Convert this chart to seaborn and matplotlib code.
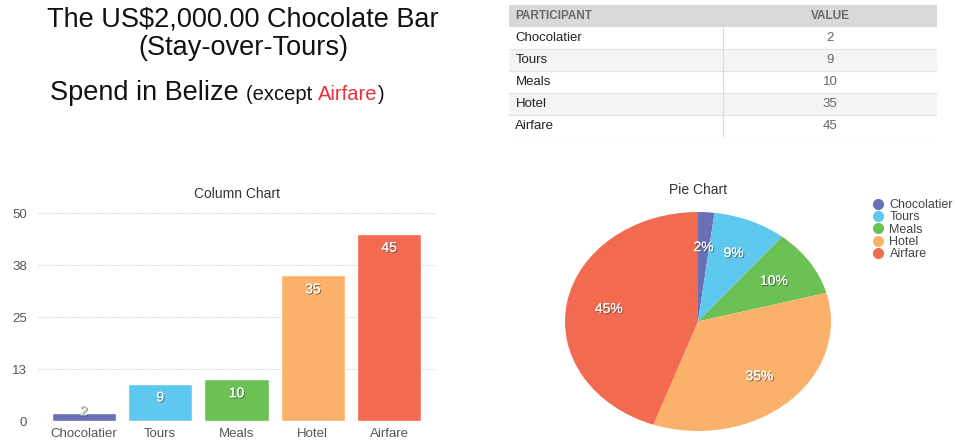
import matplotlib
matplotlib.use("Agg")
import matplotlib.pyplot as plt
import matplotlib.patheffects as pe
from matplotlib.lines import Line2D
import seaborn as sns
import pandas as pd

categories = ["Chocolatier", "Tours", "Meals", "Hotel", "Airfare"]
values = [2, 9, 10, 35, 45]
colors = ["#6b6fb5", "#5ec8ee", "#6cc155", "#fbb169", "#f26a50"]
ytick_values = [0, 12.5, 25, 37.5, 50]
ytick_labels = ["0", "13", "25", "38", "50"]
table_header = ["PARTICIPANT", "VALUE"]

sns.set_theme(style="white")
plt.rcParams["font.family"] = ["Liberation Sans", "DejaVu Sans"]

W, H = 955, 441
fig = plt.figure(figsize=(W / 100, H / 100), dpi=100)
fig.patch.set_facecolor("white")

def fx(px):
    return px / W

def fy(py):
    return 1 - py / H

# ---------------- Titles ----------------
fig.text(fx(243), fy(19), "The US$2,000.00 Chocolate Bar", ha="center", va="center",
         fontsize=19.5, color="#111111")
fig.text(fx(243), fy(48), "(Stay-over-Tours)", ha="center", va="center",
         fontsize=19.5, color="#111111")

renderer = fig.canvas.get_renderer()
x0 = fx(50)
parts = [("Spend in Belize ", 19.5, "#111111"), ("(except ", 14.5, "#111111"),
         ("Airfare", 14.5, "#e8313a"), (")", 14.5, "#111111")]
for txt, size, col in parts:
    t = fig.text(x0, fy(100), txt, ha="left", va="baseline", fontsize=size, color=col)
    bb = t.get_window_extent(renderer=renderer)
    x0 += bb.width / W

# ---------------- Table ----------------
tax = fig.add_axes([fx(509), fy(137), fx(937 - 509), (137 - 5) / H])
tax.axis("off")
tax.set_xlim(0, 1)
tax.set_ylim(0, 1)
cell_text = [[c, str(v)] for c, v in zip(categories, values)]
tbl = tax.table(cellText=cell_text, colLabels=table_header, bbox=[0, 0, 1, 1],
                cellLoc="left", colLoc="left")
tbl.auto_set_font_size(False)
nrows = len(categories) + 1
for (r, c), cell in tbl.get_celld().items():
    cell.PAD = 0.03
    txt = cell.get_text()
    if r == 0:
        face = "#d9d9d9"
        txt.set_fontsize(8.5)
        txt.set_fontweight("bold")
        txt.set_color("#6a6a6a")
    else:
        face = "#f4f4f4" if r % 2 == 0 else "white"
        txt.set_fontsize(9.5)
        txt.set_color("#222222" if c == 0 else "#666666")
    cell.set_facecolor(face)
    cell.set_edgecolor(face)
    cell.set_linewidth(0)
    if c == 1:
        txt.set_horizontalalignment("center")
        cell._loc = "center"
# row separators and column divider
for k in range(nrows - 1):
    tax.axhline(k / nrows, color="#e3e3e3", linewidth=0.8, zorder=5)
tax.axvline(0.5, ymin=0, ymax=(nrows - 1) / nrows, color="#dcdcdc", linewidth=0.8, zorder=5)

# ---------------- Column chart ----------------
ax = fig.add_axes([fx(38), fy(421), fx(435 - 38), (421 - 213) / H])
df = pd.DataFrame({"category": categories, "value": values})
sns.barplot(data=df, x="category", y="value", hue="category", palette=colors,
            legend=False, width=0.84, ax=ax, saturation=1)
ax.set_xlim(-0.6, 4.6)
ax.set_ylim(0, 50)
ax.set_yticks(ytick_values)
ax.set_yticklabels(ytick_labels)
ax.set_xlabel("")
ax.set_ylabel("")
for s in ax.spines.values():
    s.set_visible(False)
ax.tick_params(axis="both", length=0, labelsize=9.5, colors="#555555")
ax.tick_params(axis="y", pad=8)
ax.tick_params(axis="x", pad=5)
ax.set_axisbelow(True)
ax.yaxis.grid(True, color="#d4d4d4", linestyle=(0, (1, 1)), linewidth=0.8)
ax.xaxis.grid(False)
ax.set_title("Column Chart", fontsize=10, color="#333333", pad=11)

shadow = [pe.withSimplePatchShadow(offset=(0.8, -0.8), shadow_rgbFace="#333333", alpha=0.6),
          pe.Normal()]
for cont in ax.containers:
    for bar in cont:
        h = bar.get_height()
        if h != h or h == 0:
            continue
        big = h > 5
        lab = ax.bar_label(cont, labels=[f"{int(round(h))}"],
                           padding=-15 if big else -4,
                           fontsize=10, color="white" if big else "#dddddd")
        for t in lab:
            t.set_path_effects(shadow)

# ---------------- Pie chart ----------------
pax = fig.add_axes([fx(565), fy(431), fx(831 - 565), (431 - 212) / H])
wedges, texts, autotexts = pax.pie(values, colors=colors, startangle=90,
                                   counterclock=False, autopct=lambda p: f"{p:.0f}%",
                                   pctdistance=0.68, wedgeprops=dict(linewidth=0))
pax.set_aspect("auto")
pax.set_xlim(-1, 1)
pax.set_ylim(-1, 1)
for t in autotexts:
    t.set_color("white")
    t.set_fontsize(10)
    t.set_path_effects(shadow)
pax.set_title("Pie Chart", fontsize=10, color="#333333", pad=13)

handles = [Line2D([0], [0], marker="o", linestyle="", markersize=7,
                  markerfacecolor=c, markeredgecolor=c) for c in colors]
fig.legend(handles, categories, loc="upper left",
           bbox_to_anchor=(fx(867), fy(193)), bbox_transform=fig.transFigure,
           frameon=False, fontsize=9, labelcolor="#444444", handlelength=0.7,
           handletextpad=0.6, labelspacing=0.02, borderpad=0)

fig.savefig("out.png", dpi=100, facecolor="white")
